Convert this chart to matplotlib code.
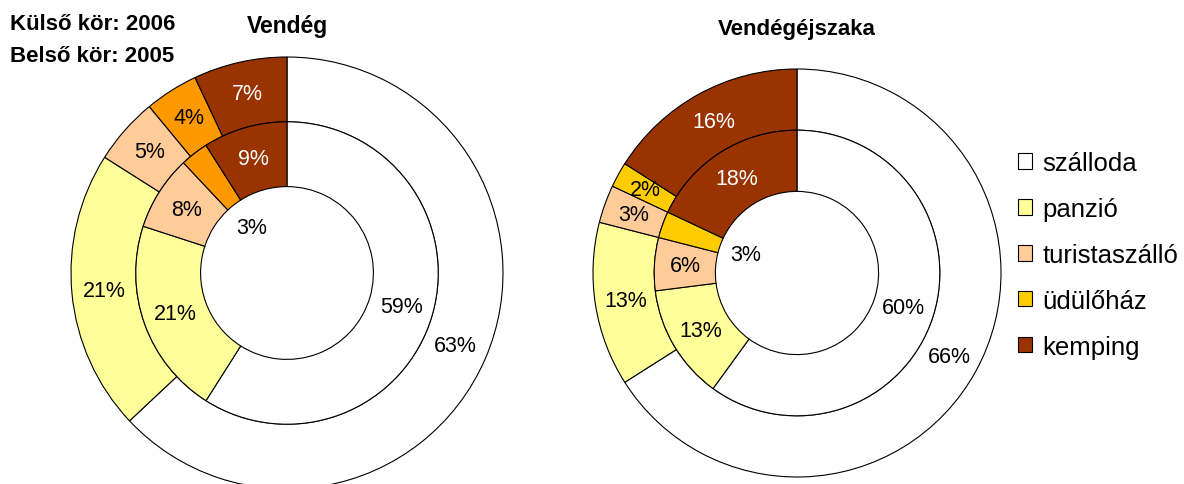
import numpy as np
import matplotlib.pyplot as plt

plt.rcParams['font.family'] = ['Liberation Sans', 'DejaVu Sans']

# adatok (kulso kor: 2006, belso kor: 2005)
kategoriak = ['szálloda', 'panzió', 'turistaszálló', 'üdülőház', 'kemping']
vendeg_2006 = [63, 21, 5, 4, 7]
vendeg_2005 = [59, 21, 8, 3, 9]
ejszaka_2006 = [66, 13, 3, 2, 16]
ejszaka_2005 = [60, 13, 6, 3, 18]

szinek_bal = ['#FFFFFF', '#FFFF99', '#FFCC99', '#FF9900', '#993300']
szinek_jobb = ['#FFFFFF', '#FFFF99', '#FFCC99', '#FFCC00', '#993300']

W, H = 1184, 485


def fank(ax, kulso, belso, szinek, kx, ky, r):
    ek = dict(edgecolor='black', linewidth=0.8)
    w1, _ = ax.pie(kulso, radius=r, center=(kx, ky), startangle=90,
                   counterclock=False, colors=szinek,
                   wedgeprops=dict(width=0.3 * r, **ek))
    w2, _ = ax.pie(belso, radius=0.7 * r, center=(kx, ky), startangle=90,
                   counterclock=False, colors=szinek,
                   wedgeprops=dict(width=0.3 * r, **ek))
    for wedges, vals, rr, belso_kor in ((w1, kulso, 0.85 * r, False),
                                        (w2, belso, 0.55 * r, True)):
        for kat, w, v in zip(kategoriak, wedges, vals):
            t = np.deg2rad((w.theta1 + w.theta2) / 2)
            d = rr
            if belso_kor and kat == 'üdülőház':
                d = 0.265 * r  # a kis cimke a lyukba kerult
            szin = 'white' if kat == 'kemping' else 'black'
            ax.text(kx + d * np.cos(t), ky + d * np.sin(t), f'{v}%',
                    ha='center', va='center', fontsize=15.5, color=szin)
    return w1


fig = plt.figure(figsize=(W / 100, H / 100), dpi=100)
ax = fig.add_axes([0, 0, 1, 1])

fank(ax, vendeg_2006, vendeg_2005, szinek_bal, 287, H - 274, 216)
jobb = fank(ax, ejszaka_2006, ejszaka_2005, szinek_jobb, 797, H - 274, 204)

ax.set_xlim(0, W)
ax.set_ylim(0, H)
ax.set_aspect('equal')
ax.axis('off')

ax.text(10, H - 25, 'Külső kör: 2006', fontsize=16, fontweight='bold',
        ha='left', va='center')
ax.text(10, H - 56, 'Belső kör: 2005', fontsize=16, fontweight='bold',
        ha='left', va='center')
ax.text(287, H - 27, 'Vendég', fontsize=16.5, fontweight='bold',
        ha='center', va='center')
ax.text(797, H - 30, 'Vendégéjszaka', fontsize=16, fontweight='bold',
        ha='center', va='center')

ax.legend(jobb, kategoriak, loc='center left', bbox_to_anchor=(1005 / W, (H - 256) / H),
          frameon=False, fontsize=18.5, handlelength=0.55, handleheight=0.55,
          handletextpad=0.4, labelspacing=0.85, borderpad=0)

fig.savefig('out.png', dpi=100)
